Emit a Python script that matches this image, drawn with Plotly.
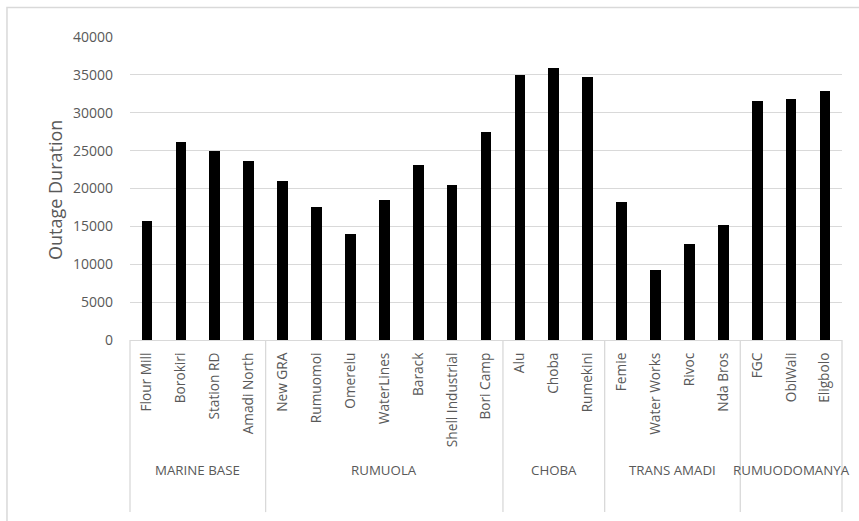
import plotly.graph_objects as go

# Feeder outage durations, grouped by injection substation
groups = ["MARINE BASE", "RUMUOLA", "CHOBA", "TRANS AMADI", "RUMUODOMANYA"]
feeders = [
    ["Flour Mill", "Borokiri", "Station RD", "Amadi North"],
    ["New GRA", "Rumuomoi", "Omerelu", "WaterLines", "Barack", "Shell Industrial", "Bori Camp"],
    ["Alu", "Choba", "Rumekini"],
    ["Femie", "Water Works", "Rivoc", "Nda Bros"],
    ["FGC", "ObiWali", "Eligbolo"],
]
durations = [
    [15750, 26100, 25000, 23600],
    [21000, 17600, 14050, 18500, 23050, 20500, 27450],
    [34950, 35850, 34700],
    [18200, 9300, 12650, 15200],
    [31550, 31800, 32900],
]
y_ticks = [0, 5000, 10000, 15000, 20000, 25000, 30000, 35000, 40000]

names = [n for grp in feeders for n in grp]
values = [v for grp in durations for v in grp]
positions = list(range(len(names)))
n_total = len(names)

FONT = "Open Sans"
GREY_TEXT = "#595959"
GRID = "#d9d9d9"

fig = go.Figure(
    go.Bar(
        x=positions,
        y=values,
        width=0.315,
        marker=dict(color="#000000", line=dict(width=0)),
        hoverinfo="skip",
    )
)

# group separators and group labels under the category axis
shapes = []
annotations = []
bottom = -0.568
start = 0
bounds = [0]
for gname, grp in zip(groups, feeders):
    end = start + len(grp)
    bounds.append(end)
    annotations.append(dict(
        x=(start + end) / 2 / n_total, xref="paper",
        y=-0.43, yref="paper",
        text=gname, showarrow=False,
        font=dict(family=FONT, size=13.3, color=GREY_TEXT),
        xanchor="center", yanchor="middle",
    ))
    start = end
for b in bounds:
    shapes.append(dict(
        type="line", xref="paper", yref="paper",
        x0=b / n_total, x1=b / n_total, y0=0, y1=bottom,
        line=dict(color=GRID, width=1.3),
    ))

# chart-area border
shapes.append(dict(
    type="rect", xref="paper", yref="paper",
    x0=-0.1728, x1=1.04, y0=-0.66, y1=1.097,
    line=dict(color=GRID, width=1.5), fillcolor="rgba(0,0,0,0)",
    layer="below",
))

# y-axis title
annotations.append(dict(
    x=-0.1054, xref="paper", y=0.495, yref="paper",
    text="Outage Duration", textangle=-90, showarrow=False,
    font=dict(family=FONT, size=18, color=GREY_TEXT),
    xanchor="center", yanchor="middle",
))

fig.update_layout(
    width=859, height=521,
    margin=dict(l=130, r=17.3, t=36.7, b=180.7),
    paper_bgcolor="white", plot_bgcolor="white",
    showlegend=False,
    bargap=0,
    font=dict(family=FONT, size=13, color=GREY_TEXT),
    xaxis=dict(
        range=[-0.5, n_total - 0.5],
        tickmode="array", tickvals=positions, ticktext=names,
        tickangle=-90, ticks="", showgrid=False, zeroline=False,
        showline=True, linecolor=GRID, linewidth=1.3,
        tickfont=dict(family=FONT, size=13.7, color=GREY_TEXT),
        ticklabelstandoff=6,
    ),
    yaxis=dict(
        range=[0, 40000],
        tickmode="array", tickvals=y_ticks, ticktext=[str(t) for t in y_ticks],
        ticks="", showgrid=True, gridcolor=GRID, gridwidth=1.3,
        zeroline=False, showline=False,
        tickfont=dict(family=FONT, size=14, color=GREY_TEXT),
        ticklabelstandoff=16,
    ),
    shapes=shapes,
    annotations=annotations,
)

fig.write_html("out.html")
